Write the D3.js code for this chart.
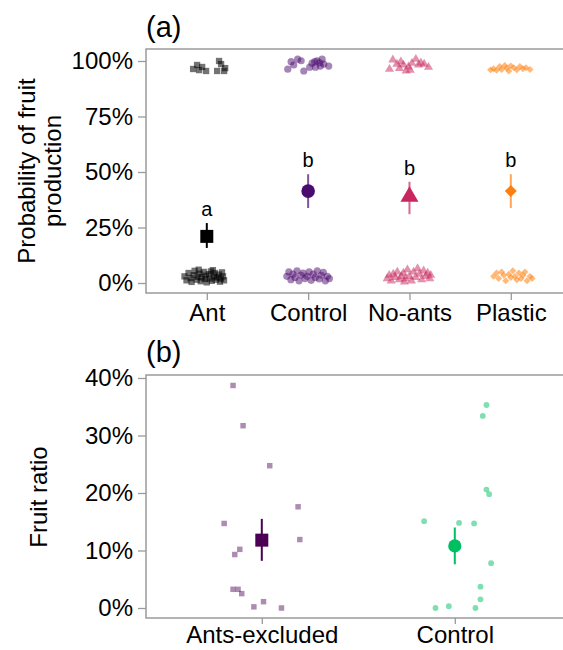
<!DOCTYPE html>
<html>
<head>
<meta charset="utf-8">
<script src="https://cdn.jsdelivr.net/npm/d3@7"></script>
<style>
  body { margin: 0; background: #fff; }
  svg text { font-family: "Liberation Sans", Arial, sans-serif; fill: #000; }
</style>
</head>
<body>
<svg id="chart" width="563" height="650"></svg>
<script>
// ---- panel (a) data ----
const catsA = ["Ant", "Control", "No-ants", "Plastic"];
const meanA = [0.21, 0.414, 0.389, 0.414];
const lowA = [0.158, 0.338, 0.31, 0.338];
const highA = [0.27, 0.49, 0.456, 0.49];
const lettersA = ["a", "b", "b", "b"];
const ticksA = [0, 0.25, 0.5, 0.75, 1];

// jittered raw observations: [x position (category index + jitter), value]
const antPts = [
  [0.865,0.964],[0.904,0.982],[0.924,0.959],[0.954,0.973],[0.993,0.955],
  [1.102,0.955],[1.121,1.0],[1.141,0.986],[1.181,0.968],[1.171,0.955],
  [0.78,0.03],[0.80,0.012],[0.82,0.045],[0.84,0.022],[0.85,0.005],[0.87,0.035],
  [0.88,0.055],[0.90,0.015],[0.91,0.028],[0.93,0.042],[0.94,0.008],[0.95,0.025],
  [0.97,0.05],[0.98,0.018],[0.99,0.033],[1.00,0.003],[1.02,0.04],[1.03,0.02],
  [1.04,0.052],[1.05,0.01],[1.07,0.03],[1.08,0.045],[1.09,0.015],[1.10,0.025],
  [1.12,0.038],[1.13,0.006],[1.14,0.02],[1.15,0.048],[1.16,0.03],[1.17,0.012],
  [0.92,0.06],[1.06,0.058]
];
const controlPts = [
  [1.799,0.963],[1.832,0.997],[1.858,0.982],[1.897,1.008],[1.931,1.001],[1.957,0.955],
  [2.016,0.972],[2.039,0.99],[2.065,0.997],[2.089,1.001],[2.114,0.992],[2.138,1.008],
  [2.121,0.977],[2.154,0.986],[2.203,0.977],[2.072,0.972],
  [1.79,0.03],[1.81,0.05],[1.83,0.015],[1.85,0.04],[1.87,0.025],[1.89,0.055],
  [1.91,0.01],[1.93,0.035],[1.95,0.045],[1.97,0.02],[1.99,0.03],[2.01,0.05],
  [2.03,0.012],[2.05,0.04],[2.07,0.025],[2.09,0.055],[2.11,0.018],[2.13,0.035],
  [2.15,0.048],[2.17,0.01],[2.19,0.03],[2.21,0.02]
];
const noAntsPts = [
  [2.803,0.963],[2.836,1.005],[2.876,0.986],[2.915,0.997],[2.941,0.982],[2.967,0.956],
  [2.99,0.974],[3.024,0.99],[3.063,1.008],[3.089,0.982],[3.113,0.992],[3.145,0.986],
  [3.188,0.972],[3.007,0.959],[2.901,0.967],
  [2.78,0.02],[2.80,0.035],[2.82,0.01],[2.84,0.04],[2.86,0.025],[2.88,0.05],
  [2.90,0.015],[2.92,0.03],[2.94,0.045],[2.96,0.02],[2.98,0.06],[3.00,0.03],
  [3.02,0.01],[3.04,0.05],[3.06,0.025],[3.08,0.065],[3.10,0.04],[3.12,0.015],
  [3.14,0.055],[3.16,0.03],[3.18,0.045],[3.20,0.02],[3.21,0.035],[2.95,0.005]
];
const plasticPts = [
  [3.80,0.96],[3.83,0.965],[3.86,0.958],[3.89,0.975],[3.91,0.962],[3.94,0.98],
  [3.96,0.968],[3.98,0.955],[4.00,0.978],[4.03,0.97],[4.06,0.96],[4.09,0.975],
  [4.12,0.965],[4.15,0.97],[4.19,0.962],
  [3.83,0.03],[3.86,0.045],[3.88,0.02],[3.91,0.05],[3.93,0.035],[3.95,0.01],
  [3.98,0.04],[4.00,0.025],[4.02,0.055],[4.04,0.03],[4.06,0.015],[4.08,0.045],
  [4.10,0.02],[4.12,0.035],[4.14,0.05],[4.16,0.01],[4.19,0.03],[4.21,0.02]
];

// ---- panel (b) data ----
const catsB = ["Ants-excluded", "Control"];
const meanB = [0.118, 0.108];
const lowB = [0.082, 0.076];
const highB = [0.155, 0.14];
const ticksB = [0, 0.1, 0.2, 0.3, 0.4];
const exclPts = [
  [0.851,0.387],[0.903,0.317],[1.041,0.2475],[1.188,0.176],[0.805,0.147],[1.197,0.119],
  [0.886,0.102],[0.860,0.093],[0.851,0.0325],[0.877,0.0325],[0.896,0.025],[0.959,0.002],
  [1.009,0.011],[1.102,0.0]
];
const ctrlPts = [
  [2.164,0.353],[2.145,0.334],[2.164,0.206],[2.178,0.198],[1.841,0.151],[2.022,0.148],
  [2.100,0.147],[2.188,0.078],[2.133,0.037],[2.133,0.015],[1.900,0.0],[1.969,0.003],
  [2.107,0.0]
];

const colA = ["#000000", "#4B0A6E", "#C8265E", "#FF7F0E"];
const colB = ["#4B0055", "#00BF63"];
const axisGrey = "#9a9a9a";

const svg = d3.select("#chart");
const pct = d3.format(".0%");

function frame(g, x0, x1, y0, y1) {
  // left, top and bottom border of the panel
  g.append("path")
    .attr("d", `M${x1},${y1}H${x0}V${y0}H${x1}`)
    .attr("fill", "none").attr("stroke", axisGrey).attr("stroke-width", 1.5);
}

function styleAxis(sel) {
  sel.select(".domain").remove();
  sel.selectAll(".tick line").attr("stroke", axisGrey).attr("stroke-width", 1.3);
  sel.selectAll(".tick text").attr("font-size", 24).attr("fill", "#000")
    .attr("font-family", "Liberation Sans, Arial, sans-serif");
}

// ================= panel (a) =================
const xA = d3.scaleLinear().domain([0.4, 4.6]).range([146, 571.6]);
const yA = d3.scaleLinear().domain([-0.045, 1.054]).range([293, 49]);

const gA = svg.append("g");
frame(gA, 146, 563, 49, 293);

gA.append("g").attr("transform", "translate(146,0)")
  .call(d3.axisLeft(yA).tickValues(ticksA).tickFormat(pct).tickSize(8).tickPadding(5))
  .call(styleAxis);

gA.append("g").attr("transform", "translate(0,293)")
  .call(d3.axisBottom(xA).tickValues([1, 2, 3, 4]).tickFormat((d, i) => catsA[i]).tickSize(7).tickPadding(4))
  .call(styleAxis);

const sym = (type, size) => d3.symbol().type(type).size(size)();

// raw jittered points
gA.append("g").selectAll("path").data(antPts).join("path")
  .attr("d", sym(d3.symbolSquare, 40))
  .attr("transform", d => `translate(${xA(d[0])},${yA(d[1])})`)
  .attr("fill", colA[0]).attr("fill-opacity", 0.55);

gA.append("g").selectAll("circle").data(controlPts).join("circle")
  .attr("cx", d => xA(d[0])).attr("cy", d => yA(d[1])).attr("r", 3.6)
  .attr("fill", colA[1]).attr("fill-opacity", 0.5);

gA.append("g").selectAll("path").data(noAntsPts).join("path")
  .attr("d", sym(d3.symbolTriangle, 36))
  .attr("transform", d => `translate(${xA(d[0])},${yA(d[1])})`)
  .attr("fill", colA[2]).attr("fill-opacity", 0.5);

gA.append("g").selectAll("path").data(plasticPts).join("path")
  .attr("d", sym(d3.symbolSquare, 24))
  .attr("transform", d => `translate(${xA(d[0])},${yA(d[1])}) rotate(45)`)
  .attr("fill", colA[3]).attr("fill-opacity", 0.55);

// error bars + means
gA.append("g").selectAll("line").data(catsA).join("line")
  .attr("x1", (d, i) => xA(i + 1)).attr("x2", (d, i) => xA(i + 1))
  .attr("y1", (d, i) => yA(lowA[i])).attr("y2", (d, i) => yA(highA[i]))
  .attr("stroke", (d, i) => colA[i]).attr("stroke-opacity", (d, i) => i ? 0.7 : 1)
  .attr("stroke-width", 2);

const meanShapes = [
  sym(d3.symbolSquare, 169),
  null,
  sym(d3.symbolTriangle, 140),
  sym(d3.symbolSquare, 72)
];
catsA.forEach((c, i) => {
  const cx = xA(i + 1), cy = yA(meanA[i]);
  if (i === 1) {
    gA.append("circle").attr("cx", cx).attr("cy", cy).attr("r", 6.8).attr("fill", colA[i]);
  } else {
    gA.append("path").attr("d", meanShapes[i])
      .attr("transform", `translate(${cx},${cy})` + (i === 3 ? " rotate(45)" : ""))
      .attr("fill", colA[i]);
  }
});

gA.append("g").selectAll("text").data(lettersA).join("text")
  .attr("x", (d, i) => xA(i + 1)).attr("y", (d, i) => yA(highA[i]) - 7)
  .attr("text-anchor", "middle").attr("font-size", 20)
  .text(d => d);

gA.append("text").attr("x", 146).attr("y", 37).attr("font-size", 29).text("(a)");

gA.append("text").attr("transform", "translate(35,171) rotate(-90)")
  .attr("text-anchor", "middle").attr("font-size", 24).text("Probability of fruit");
gA.append("text").attr("transform", "translate(61,171) rotate(-90)")
  .attr("text-anchor", "middle").attr("font-size", 24).text("production");

// ================= panel (b) =================
const xB = d3.scaleLinear().domain([0.4, 2.6]).range([146, 570.6]);
const yB = d3.scaleLinear().domain([-0.0174, 0.4052]).range([618, 375]);

const gB = svg.append("g");
frame(gB, 146, 563, 375, 618);

gB.append("g").attr("transform", "translate(146,0)")
  .call(d3.axisLeft(yB).tickValues(ticksB).tickFormat(pct).tickSize(8).tickPadding(5))
  .call(styleAxis);

gB.append("g").attr("transform", "translate(0,618)")
  .call(d3.axisBottom(xB).tickValues([1, 2]).tickFormat((d, i) => catsB[i]).tickSize(6).tickPadding(2))
  .call(styleAxis);

gB.append("g").selectAll("path").data(exclPts).join("path")
  .attr("d", sym(d3.symbolSquare, 30))
  .attr("transform", d => `translate(${xB(d[0])},${yB(d[1])})`)
  .attr("fill", colB[0]).attr("fill-opacity", 0.45);

gB.append("g").selectAll("circle").data(ctrlPts).join("circle")
  .attr("cx", d => xB(d[0])).attr("cy", d => yB(d[1])).attr("r", 2.9)
  .attr("fill", colB[1]).attr("fill-opacity", 0.5);

gB.append("g").selectAll("line").data(catsB).join("line")
  .attr("x1", (d, i) => xB(i + 1)).attr("x2", (d, i) => xB(i + 1))
  .attr("y1", (d, i) => yB(lowB[i])).attr("y2", (d, i) => yB(highB[i]))
  .attr("stroke", (d, i) => colB[i]).attr("stroke-width", 2);

gB.append("path").attr("d", sym(d3.symbolSquare, 169))
  .attr("transform", `translate(${xB(1)},${yB(meanB[0])})`).attr("fill", colB[0]);
gB.append("circle").attr("cx", xB(2)).attr("cy", yB(meanB[1])).attr("r", 6.6).attr("fill", colB[1]);

gB.append("text").attr("x", 146).attr("y", 362).attr("font-size", 29).text("(b)");
gB.append("text").attr("transform", "translate(47,497) rotate(-90)")
  .attr("text-anchor", "middle").attr("font-size", 24).text("Fruit ratio");
</script>
</body>
</html>
